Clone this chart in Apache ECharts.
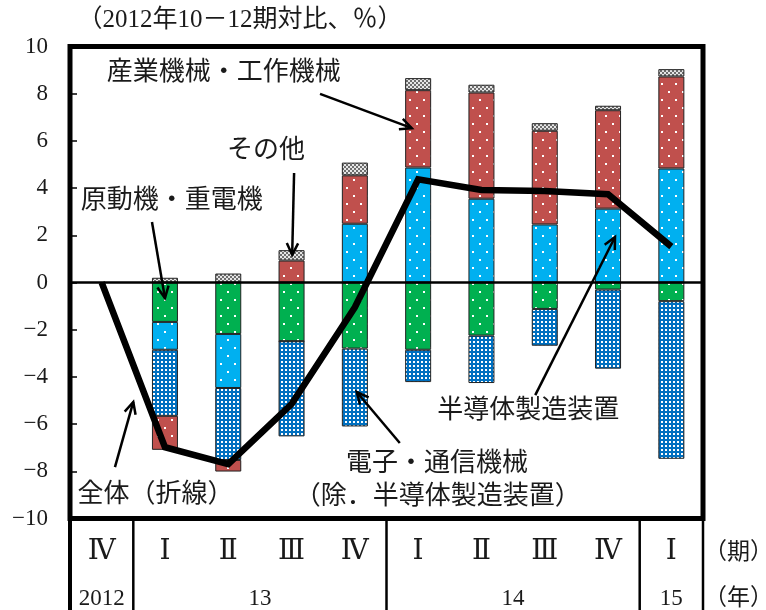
<!DOCTYPE html>
<html>
<head>
<meta charset="utf-8">
<script src="https://cdn.jsdelivr.net/npm/echarts@6/dist/echarts.min.js"></script>
<style>
  html, body { margin: 0; padding: 0; background: #fff; }
  #chart { width: 766px; height: 610px; }
</style>
</head>
<body>
<div id="chart"></div>
<script>
// Quarter labels (period) and the year groups they belong to
const quarters = ['Ⅳ', 'Ⅰ', 'Ⅱ', 'Ⅲ', 'Ⅳ', 'Ⅰ', 'Ⅱ', 'Ⅲ', 'Ⅳ', 'Ⅰ'];
const yearLabels = ['2012', '13', '14', '15'];
const yearFirst = [0, 1, 5, 9];
const yearLast = [0, 4, 8, 9];

// Contributions by machine type (percentage points vs 2012 Q4)
const heavyElectric = [0, -1.67, -2.18, -2.49, -2.80, -2.85, -2.25, -1.12, -0.30, -0.79];  // 原動機・重電機
const semiEquip     = [0, -1.18, -2.29, 0, 2.49, 4.87, 3.55, 2.46, 3.13, 4.83];            // 半導体製造装置
const electronics   = [0, -2.80, -3.05, -4.03, -3.30, -1.37, -2.01, -1.56, -3.35, -6.68]; // 電子・通信機械
const industrial    = [0, -1.44, -0.49, 0.93, 2.05, 3.28, 4.50, 3.97, 4.17, 3.90];        // 産業機械・工作機械
const others        = [0, 0.20, 0.38, 0.44, 0.54, 0.51, 0.33, 0.32, 0.19, 0.31];          // その他
const total         = [0, -6.98, -7.70, -5.15, -1.05, 4.37, 3.92, 3.88, 3.74, 1.52];      // 全体

// Value axis
const yMin = -10, yMax = 10, yStep = 2;

const CJK = "'Liberation Serif', 'Noto Sans CJK JP', serif";
const TXT = '#1a1a1a';

// Fill patterns for the bar segments
function makePattern(w, h, bg, dots) {
  const c = document.createElement('canvas');
  c.width = w; c.height = h;
  const g = c.getContext('2d');
  g.fillStyle = bg;
  g.fillRect(0, 0, w, h);
  dots.forEach(d => { g.fillStyle = d[4] || '#fff'; g.fillRect(d[0], d[1], d[2], d[3]); });
  return { image: c, repeat: 'repeat' };
}
const sparse = bg => makePattern(14, 16, bg, [[3, 3, 2, 2], [10, 11, 2, 2]]);
const patGreen = sparse('#00b050');
const patCyan = sparse('#00b0f0');
const patRed = sparse('#c0504d');
const patBlue = makePattern(4, 4, '#0070c0', [[1, 1, 2, 2]]);
const patGrey = makePattern(4, 4, '#6e6e6e', [[0, 0, 2, 2, '#e6e6e6'], [2, 2, 2, 2, '#e6e6e6']]);

function barSeries(name, data, fill) {
  return {
    name, type: 'bar', stack: 'machines', data,
    barWidth: 26,
    itemStyle: { color: fill, borderColor: '#222', borderWidth: 1 },
    emphasis: { disabled: true }
  };
}

const chart = echarts.init(document.getElementById('chart'), null, { renderer: 'canvas' });

chart.setOption({
  animation: false,
  backgroundColor: '#fff',
  grid: {
    left: 70, right: 63, top: 46.5, bottom: 91.5,
    show: true, borderColor: '#000', borderWidth: 5, backgroundColor: 'transparent'
  },
  xAxis: {
    type: 'category',
    data: quarters,
    axisLine: { show: false },
    axisTick: { show: false },
    axisLabel: {
      interval: 0, margin: 19,
      fontFamily: "'DejaVu Serif', 'Liberation Serif', serif",
      fontSize: 28, color: TXT
    }
  },
  yAxis: {
    type: 'value',
    min: yMin, max: yMax, interval: yStep,
    axisLine: { show: false },
    axisTick: { show: true, inside: true, length: 7, lineStyle: { color: '#000', width: 1.5 } },
    splitLine: { show: false },
    axisLabel: {
      margin: 22, fontFamily: CJK, fontSize: 23, color: TXT,
      formatter: v => String(v).replace('-', '−')
    }
  },
  series: [
    barSeries('原動機・重電機', heavyElectric, patGreen),
    barSeries('半導体製造装置', semiEquip, patCyan),
    barSeries('電子・通信機械', electronics, patBlue),
    barSeries('産業機械・工作機械', industrial, patRed),
    barSeries('その他', others, patGrey),
    {
      name: '全体', type: 'line', data: total,
      symbol: 'none', z: 5,
      lineStyle: { color: '#000', width: 6.5, join: 'miter' },
      markLine: {
        silent: true, symbol: 'none', label: { show: false },
        lineStyle: { color: '#000', width: 2.5, type: 'solid' },
        data: [{ yAxis: 0 }]
      }
    }
  ]
});

// Annotation placement in axis units: [category position, value]
const notes = [
  { text: '（2012年10－12期対比、％）', at: [-0.38, 11.12], size: 25 },
  { text: '産業機械・工作機械', at: [0.08, 8.85], size: 26 },
  { text: 'その他', at: [1.98, 5.55], size: 26 },
  { text: '原動機・重電機', at: [-0.33, 3.45], size: 26 },
  { text: '全体（折線）', at: [-0.38, -9.0], size: 26 },
  { text: '電子・通信機械', at: [3.86, -7.69], size: 26 },
  { text: '（除．半導体製造装置）', at: [3.05, -9.09], size: 26 },
  { text: '半導体製造装置', at: [5.3, -5.44], size: 26 }
];
const arrows = [
  { from: [3.45, 7.99], to: [4.90, 6.54] },
  { from: [3.04, 4.64], to: [3.01, 1.17] },
  { from: [0.795, 2.56], to: [1.0, -0.66] },
  { from: [0.21, -7.82], to: [0.50, -5.06] },
  { from: [4.71, -6.8], to: [4.03, -4.64] },
  { from: [6.85, -4.77], to: [8.11, 1.93] }
];

function drawOverlay() {
  const c0 = chart.convertToPixel({ xAxisIndex: 0 }, 0);
  const c1 = chart.convertToPixel({ xAxisIndex: 0 }, 1);
  const X = i => c0 + (c1 - c0) * i;
  const Y = v => chart.convertToPixel({ yAxisIndex: 0 }, v);
  const yBottom = Y(yMin);
  const g = [];

  // table rules under the plot
  const rules = [
    { i: -0.5, w: 4 }, { i: 0.5, w: 2.5 }, { i: 4.5, w: 2.5 }, { i: 8.5, w: 2.5 }, { i: 9.5, w: 2.5 }
  ];
  rules.forEach(r => g.push({
    type: 'line', silent: true, z: 100,
    shape: { x1: X(r.i), y1: yBottom, x2: X(r.i), y2: 612 },
    style: { stroke: '#000', lineWidth: r.w }
  }));

  // year row
  yearLabels.forEach((t, k) => g.push({
    type: 'text', silent: true, z: 100,
    style: {
      text: t, x: (X(yearFirst[k]) + X(yearLast[k])) / 2, y: yBottom + 80,
      align: 'center', verticalAlign: 'middle',
      font: '23px ' + CJK, fill: TXT
    }
  }));
  // row captions
  [['（期）', 34], ['（年）', 80]].forEach(p => g.push({
    type: 'text', silent: true, z: 100,
    style: {
      text: p[0], x: X(9.5) + 1, y: yBottom + p[1],
      align: 'left', verticalAlign: 'middle',
      font: '23px ' + CJK, fill: TXT
    }
  }));

  notes.forEach(n => g.push({
    type: 'text', silent: true, z: 100,
    style: {
      text: n.text, x: X(n.at[0]), y: Y(n.at[1]),
      align: 'left', verticalAlign: 'middle',
      font: n.size + 'px ' + CJK, fill: TXT
    }
  }));

  arrows.forEach(a => {
    const x1 = X(a.from[0]), y1 = Y(a.from[1]), x2 = X(a.to[0]), y2 = Y(a.to[1]);
    const ang = Math.atan2(y2 - y1, x2 - x1);
    const L = 13, spread = 0.45;
    g.push({
      type: 'polyline', silent: true, z: 100,
      shape: { points: [[x1, y1], [x2, y2]] },
      style: { stroke: '#000', lineWidth: 2.5, fill: null }
    });
    g.push({
      type: 'polyline', silent: true, z: 100,
      shape: {
        points: [
          [x2 - L * Math.cos(ang - spread), y2 - L * Math.sin(ang - spread)],
          [x2, y2],
          [x2 - L * Math.cos(ang + spread), y2 - L * Math.sin(ang + spread)]
        ]
      },
      style: { stroke: '#000', lineWidth: 2.5, fill: null, lineJoin: 'miter' }
    });
  });

  chart.setOption({ graphic: g });
}
drawOverlay();
</script>
</body>
</html>
